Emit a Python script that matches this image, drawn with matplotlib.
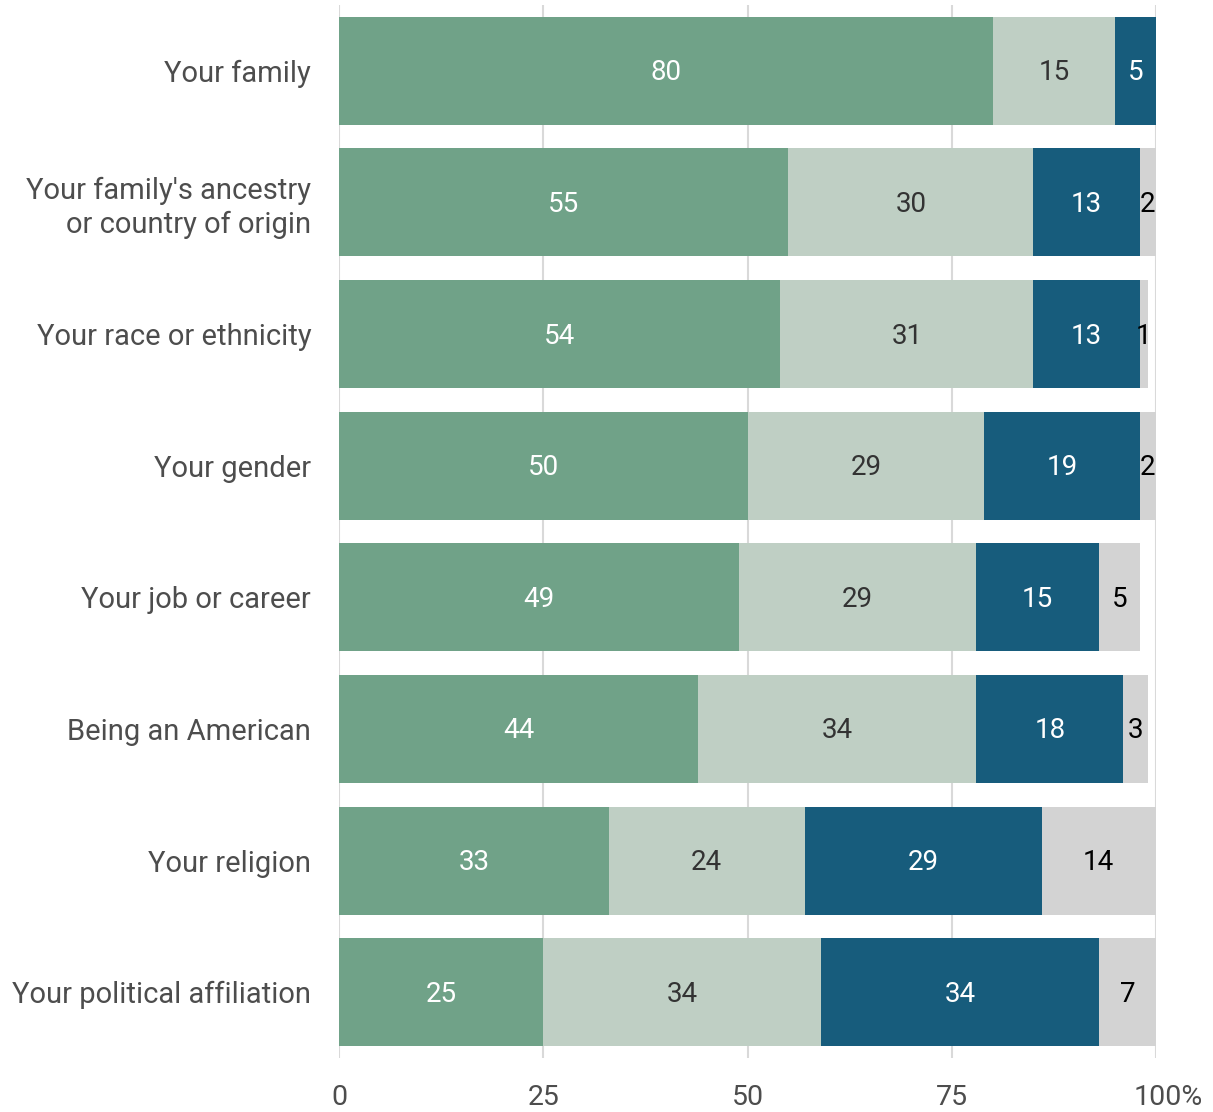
import matplotlib.pyplot as plt
import matplotlib.transforms as mtransforms
import numpy as np

plt.rcParams['font.family'] = ['Roboto', 'DejaVu Sans']

categories = ["Your family", "Your family's ancestry\nor country of origin",
              "Your race or ethnicity", "Your gender", "Your job or career",
              "Being an American", "Your religion", "Your political affiliation"]
very = [80, 55, 54, 50, 49, 44, 33, 25]
somewhat = [15, 30, 31, 29, 29, 34, 24, 34]
not_much = [5, 13, 13, 19, 15, 18, 29, 34]
other = [0, 2, 1, 2, 5, 3, 14, 7]
xticks = [0, 25, 50, 75, 100]
xticklabels = ['0', '25', '50', '75', '100%']

series = [very, somewhat, not_much, other]
colors = ['#70a288', '#bfcfc4', '#175c7c', '#d3d3d3']
text_colors = ['white', '#333333', 'white', 'black']

fig = plt.figure(figsize=(12.13, 11.12), dpi=100)
ax = fig.add_axes([339 / 1213, 1 - 1058 / 1112, (1156 - 339) / 1213, 1053 / 1112])

y = np.arange(len(categories))
left = np.zeros(len(categories))
for vals, col, tcol in zip(series, colors, text_colors):
    vals = np.array(vals, dtype=float)
    ax.barh(y, vals, left=left, height=0.82, color=col, zorder=2)
    for yi, l, v in zip(y, left, vals):
        if v > 0:
            ax.text(l + v / 2, yi + 0.015, '%d' % v, ha='center', va='center',
                    fontsize=20, color=tcol, zorder=3)
    left += vals

ax.set_xlim(0, 100)
ax.set_ylim(len(categories) - 0.5, -0.5)
ax.set_xticks(xticks)
ax.set_xticklabels(xticklabels)
ax.set_yticks(y)
ax.set_yticklabels(categories, ha='right', linespacing=1.22)
ax.tick_params(axis='y', length=0, pad=20, labelsize=21, labelcolor='#4d4d4d')
ax.tick_params(axis='x', length=0, pad=19, labelsize=20.5, labelcolor='#4d4d4d')
# "100%" sits a bit right of its gridline in the original
last = ax.get_xticklabels()[-1]
last.set_transform(last.get_transform() +
                   mtransforms.ScaledTranslation(12 / 100, 0, fig.dpi_scale_trans))
ax.grid(axis='x', color='#d9d9d9', linewidth=1.5, zorder=0)
for s in ax.spines.values():
    s.set_visible(False)

plt.savefig('out.png', dpi=100)
